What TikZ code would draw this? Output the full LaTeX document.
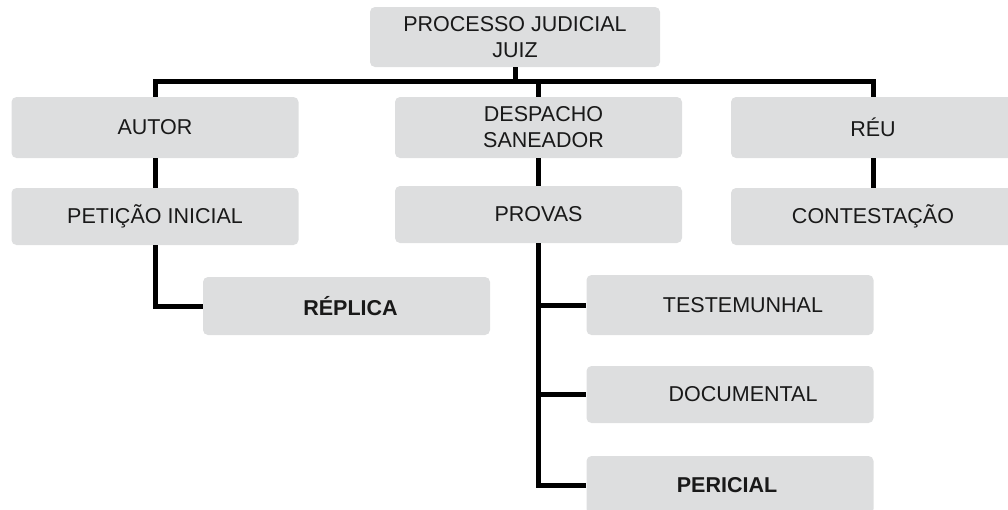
\documentclass[tikz,border=0pt]{standalone}
\usepackage{fontspec}
\setmainfont{Liberation Sans}
\usepackage{tikz}
\usetikzlibrary{positioning,calc}

\definecolor{boxgray}{RGB}{221,222,223}

\begin{document}
\begin{tikzpicture}[
    x=1pt, y=-1pt,
    every node/.style={align=center, text=black!90},
    box/.style={rectangle, fill=boxgray, rounded corners=5pt, minimum width=287pt, minimum height=59pt, inner sep=0pt, font=\fontsize{21.5}{26}\selectfont},
    strongbox/.style={box, font=\fontsize{21.5}{26}\selectfont\bfseries},
    link/.style={draw=black, line width=5pt, line join=miter}
]
\useasboundingbox (0,0) rectangle (1008,509);

% top level
\node [box, minimum width=290pt, minimum height=60pt] (processo) at (515,37) {PROCESSO JUDICIAL\\JUIZ};
\coordinate (bar) at (0,81);

% second row
\node [box, minimum height=61pt] (autor) at (155,127.5) {AUTOR};
\node [box, minimum height=61pt] (despacho) at (538.5,127.5) {\hspace*{10pt}DESPACHO\\\hspace*{10pt}SANEADOR};
\node [box, minimum height=61pt, minimum width=284pt] (reu) at (873,127.5) {RÉU};

% third row
\node [box, minimum height=57pt] (peticao) at (155,216.5) {PETIÇÃO INICIAL};
\node [box, minimum height=57pt] (provas) at (538.5,214.5) {PROVAS};
\node [box, minimum height=57pt, minimum width=284pt] (contestacao) at (873,216.5) {CONTESTAÇÃO};

% lower levels
\node [strongbox, minimum height=58pt] (replica) at (346.5,306) {\hspace*{8pt}RÉPLICA};
\node [box, minimum height=60pt] (testemunhal) at (730,305) {\hspace*{26pt}TESTEMUNHAL};
\node [box, minimum height=57pt] (documental) at (730,394.5) {\hspace*{26pt}DOCUMENTAL};
\node [strongbox, minimum height=58pt] (pericial) at (730,485) {\hspace*{-6pt}PERICIAL};

% connectors
\draw [link] (processo.south) -- (processo.south |- bar);
\draw [link] (autor.north) -- (autor.north |- bar) -- (reu.north |- bar) -- (reu.north);
\draw [link] (despacho.north) -- (despacho.north |- bar);
\draw [link] (autor.south) -- (peticao.north);
\draw [link] (despacho.south) -- (provas.north);
\draw [link] (reu.south) -- (contestacao.north);
\draw [link] (peticao.south) |- (replica.west);
\draw [link] (provas.south) |- (pericial.west);
\draw [link] (provas.south |- testemunhal.west) -- (testemunhal.west);
\draw [link] (provas.south |- documental.west) -- (documental.west);
\end{tikzpicture}
\end{document}
